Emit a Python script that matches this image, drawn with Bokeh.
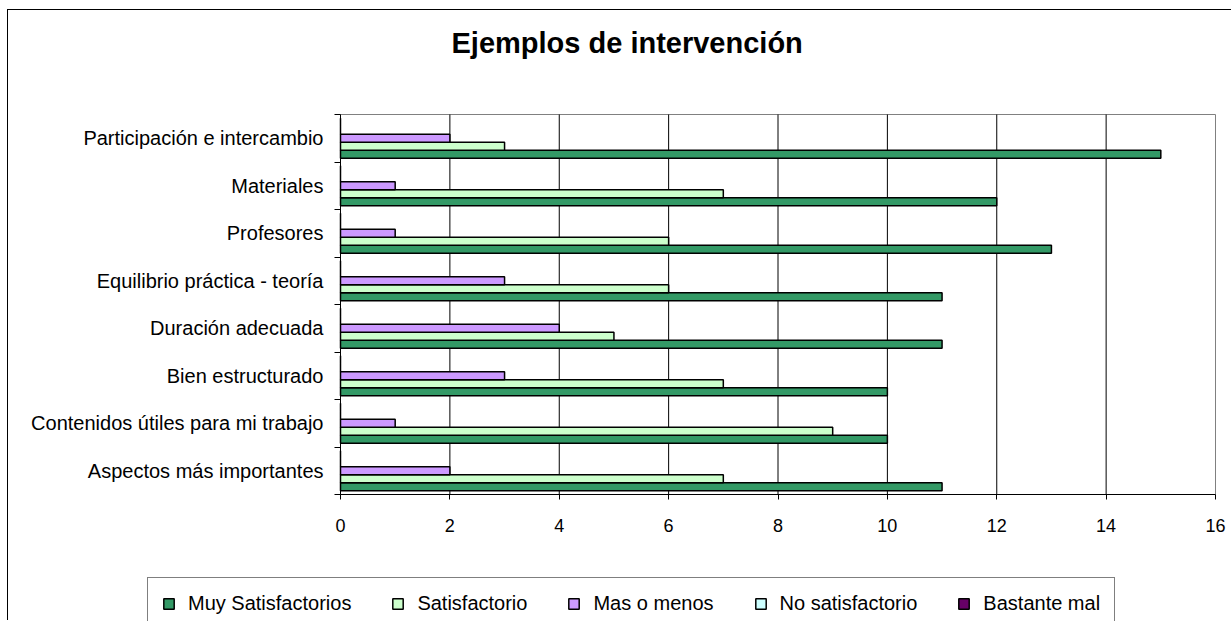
from bokeh.plotting import figure
from bokeh.models import (Legend, LegendItem, FixedTicker, Range1d,
                          ColumnDataSource, Title, LinearAxis)
from bokeh.embed import file_html
from bokeh.resources import INLINE

# ---- data ----
categories = [
    "Aspectos más importantes",
    "Contenidos útiles para mi trabajo",
    "Bien estructurado",
    "Duración adecuada",
    "Equilibrio práctica - teoría",
    "Profesores",
    "Materiales",
    "Participación e intercambio",
]
muy_satisfactorios = [11, 10, 10, 11, 11, 13, 12, 15]
satisfactorio = [7, 9, 7, 5, 6, 6, 7, 3]
mas_o_menos = [2, 1, 3, 4, 3, 1, 1, 2]
no_satisfactorio = [0, 0, 0, 0, 0, 0, 0, 0]
bastante_mal = [0, 0, 0, 0, 0, 0, 0, 0]

series_names = ["Muy Satisfactorios", "Satisfactorio", "Mas o menos",
                "No satisfactorio", "Bastante mal"]
series_values = [muy_satisfactorios, satisfactorio, mas_o_menos,
                 no_satisfactorio, bastante_mal]
series_colors = ["#339966", "#CCFFCC", "#CC99FF", "#CCFFFF", "#660066"]
x_ticks = [0, 2, 4, 6, 8, 10, 12, 14, 16]
title_text = "Ejemplos de intervención"

FONT = "Liberation Sans"
n = len(categories)
positions = list(range(n))
bar_h = 0.168
offsets = [-2 * bar_h, -bar_h, 0.0, bar_h, 2 * bar_h]

# ---- layout geometry (pixels) ----
W, H = 1224, 611           # canvas; page origin of canvas is (8, 10)
TOP = 48                   # room for the title above the frame
x0_px, x1_px = 332, 1207   # plot-area left/right inside the canvas
y_top_px, y_bot_px = 104, 484
px_per_x = (x1_px - x0_px) / (x_ticks[-1] - x_ticks[0])
px_per_y = (y_bot_px - y_top_px) / n
x_lo = x_ticks[0] - x0_px / px_per_x
x_hi = x_ticks[-1] + (W - x1_px) / px_per_x
y_hi = (n - 0.5) + (y_top_px - TOP) / px_per_y
y_lo = -0.5 - (H - y_bot_px) / px_per_y

p = figure(width=W, height=H,
           x_range=Range1d(x_lo, x_hi), y_range=Range1d(y_lo, y_hi),
           output_backend="svg", toolbar_location=None,
           x_axis_location=None, y_axis_location=None,
           min_border_left=0, min_border_right=0,
           min_border_top=TOP, min_border_bottom=0)
p.title_location = None
p.grid.visible = False
p.background_fill_color = "white"
p.border_fill_color = "white"
p.outline_line_color = None
p.styles = {"border-left": "1px solid #000", "border-top": "1px solid #000",
            "margin-left": "7px", "margin-top": "9px"}

# plot-area border and vertical grid lines
p.quad(left=[x_ticks[0]], right=[x_ticks[-1]], bottom=[-0.5], top=[n - 0.5],
       fill_color="white", line_color="#808080", line_width=1)
grid_x = x_ticks[1:-1]
p.segment(x0=grid_x, x1=grid_x, y0=[-0.5] * len(grid_x), y1=[n - 0.5] * len(grid_x),
          line_color="black", line_width=1)

items = []
for name, vals, col, off in zip(series_names, series_values, series_colors, offsets):
    src = ColumnDataSource(dict(y=[c + off for c in positions], right=vals))
    r = p.hbar(y="y", left=0, right="right", height=bar_h, source=src,
               fill_color=col, line_color="black", line_width=1.5)
    items.append(LegendItem(label=name, renderers=[r]))

# title
main_title = Title(text=title_text, text_font=FONT, text_font_size="29px",
                   text_font_style="bold", text_color="black",
                   align="left", vertical_align="bottom", offset=443, standoff=0)
p.add_layout(main_title, "above")

# x axis (fixed at the bottom of the plot area)
xa = LinearAxis(fixed_location=-0.5, bounds=(x_ticks[0], x_ticks[-1]))
xa.ticker = FixedTicker(ticks=x_ticks)
xa.axis_line_color = "black"
xa.major_tick_line_color = "black"
xa.major_tick_out = 5
xa.major_tick_in = 0
xa.minor_tick_line_color = None
xa.major_label_text_font = FONT
xa.major_label_text_font_size = "18px"
xa.major_label_text_color = "black"
xa.major_label_standoff = 19
p.add_layout(xa, "below")

# y axis (fixed at x = 0)
ya = LinearAxis(fixed_location=x_ticks[0], bounds=(-0.5, n - 0.5))
ya.ticker = FixedTicker(ticks=positions, minor_ticks=[c - 0.5 for c in range(n + 1)])
ya.major_label_overrides = {c: lab for c, lab in zip(positions, categories)}
ya.axis_line_color = "black"
ya.major_tick_line_color = None
ya.major_tick_out = 0
ya.major_tick_in = 0
ya.minor_tick_line_color = "black"
ya.minor_tick_out = 6
ya.minor_tick_in = 0
ya.major_label_text_font = FONT
ya.major_label_text_font_size = "20px"
ya.major_label_text_color = "black"
ya.major_label_standoff = 11
p.add_layout(ya, "left")

legend = Legend(items=items, location=(139, -9), orientation="horizontal",
                padding=14, spacing=40, label_standoff=13,
                glyph_width=13, glyph_height=13, label_height=22,
                label_text_font=FONT, label_text_font_size="20px",
                label_text_color="black",
                border_line_color="black", border_line_width=1,
                background_fill_color="white", background_fill_alpha=1,
                margin=0)
p.add_layout(legend)

open("out.html", "w").write(file_html(p, INLINE))
